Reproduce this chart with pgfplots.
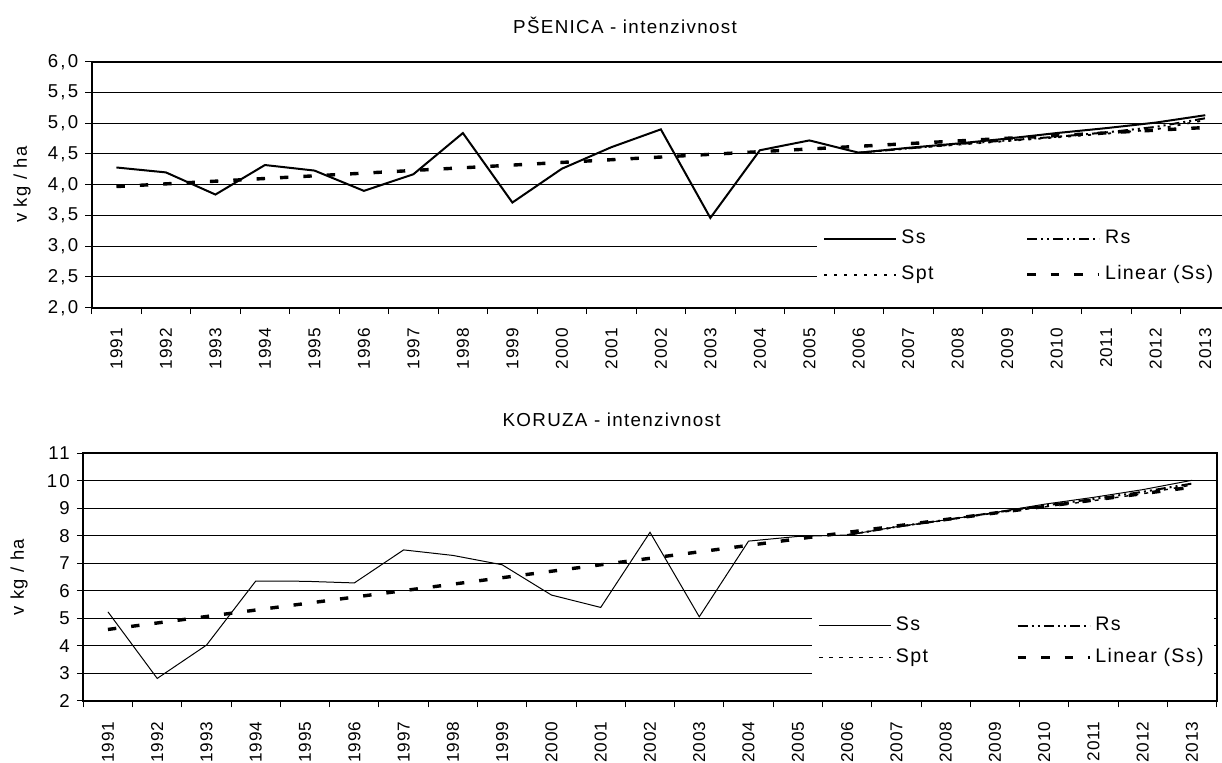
\documentclass[border=0pt]{standalone}
\usepackage{fontspec}
\setmainfont{Liberation Sans}[LetterSpace=7]
\usepackage{pgfplots}
\usepackage{pgfplotstable}
\pgfplotsset{compat=1.18}

% x: 0 = 1991 ... 22 = 2013
\pgfplotstableread{
x Ss
0 4.28
1 4.20
2 3.84
3 4.32
4 4.23
5 3.90
6 4.17
7 4.84
8 3.71
9 4.26
10 4.61
11 4.90
12 3.46
13 4.56
14 4.72
15 4.52
16 4.60
17 4.67
18 4.75
19 4.84
20 4.92
21 5.01
22 5.13
}\psSs
\pgfplotstableread{
x Rs Spt
15 4.52 4.52
16 4.59 4.59
17 4.66 4.65
18 4.72 4.71
19 4.78 4.77
20 4.85 4.83
21 4.94 4.90
22 5.08 5.05
}\psRS
\pgfplotstableread{
x Ss
0 5.24
1 2.82
2 4.03
3 6.36
4 6.35
5 6.29
6 7.49
7 7.29
8 6.95
9 5.85
10 5.40
11 8.13
12 5.06
13 7.81
14 7.98
15 8.03
16 8.33
17 8.58
18 8.85
19 9.15
20 9.40
21 9.68
22 10.02
}\koSs
\pgfplotstableread{
x Rs Spt
15 8.03 8.03
16 8.33 8.32
17 8.58 8.57
18 8.85 8.83
19 9.10 9.05
20 9.34 9.28
21 9.60 9.53
22 9.90 9.85
}\koRS

\pgfplotsset{
  mychart/.style={
    scale only axis,
    xmin=-0.5, xmax=22.5,
    xtick={-0.5,0.5,...,22.5},
    x tick label as interval,
    xticklabels={1991,1992,1993,1994,1995,1996,1997,1998,1999,2000,2001,2002,2003,2004,2005,2006,2007,2008,2009,2010,2011,2012,2013},
    xtick pos=bottom, ytick pos=left,
    tick align=outside,
    major tick length=3.2pt,
    tick style={black, line width=0.5pt},
    ymajorgrids,
    grid style={black, line width=0.5pt},
    axis line style={black, line width=1pt},
    xticklabel style={yshift=-3.6pt, rotate=90, anchor=east, font=\fontsize{8.6}{10}\selectfont\addfontfeature{LetterSpace=5}},
    yticklabel style={font=\fontsize{9.3}{11}\selectfont\addfontfeature{LetterSpace=12}},
    /pgf/number format/assume math mode=true,
    ylabel={v kg / ha},
    ylabel style={font=\fontsize{9.2}{11}\selectfont, anchor=center},
    legend columns=2,
    legend cell align=left,
    legend image code/.code={\draw[##1] (0pt,0pt) -- (36pt,0pt);},
    legend style={draw=none, fill=white, inner sep=3pt, anchor=north west,
      font=\fontsize{9.8}{11}\selectfont,
      nodes={text height=6.8pt, text depth=2pt, inner sep=2pt}},
  }
}

\begin{document}
\begin{tikzpicture}
\path[use as bounding box] (0,0) rectangle (611pt,-381pt);
\clip (0,0) rectangle (611pt,-381pt);

\node[font=\fontsize{9.4}{11}\selectfont] at (312.5pt,-12.5pt) {PŠENICA - intenzivnost};
\node[font=\fontsize{9.4}{11}\selectfont] at (305.8pt,-210pt) {KORUZA - intenzivnost};

\begin{axis}[mychart,
  at={(45.85pt,-30.85pt)}, anchor=north west,
  width=569.15pt, height=123pt,
  ymin=2, ymax=6, ytick={2,2.5,3,3.5,4,4.5,5,5.5,6},
  /pgf/number format/.cd, use comma, fixed, fixed zerofill, precision=1,
  /pgfplots/.cd,
  ylabel style={at={(axis description cs:-0.0612,0.5)}},
  legend style={at={(rel axis cs:0.6372,0.357)}, row sep=5.05pt,
    /tikz/every even column/.append style={column sep=44pt}},
]
\addplot[black, line width=1pt] table[x=x, y=Ss] {\psSs};
\addlegendentry{Ss}
\addplot[black, line width=1pt, dash pattern=on 5pt off 2pt on 1pt off 2pt on 1pt off 2pt] table[x=x, y=Rs] {\psRS};
\addlegendentry{Rs}
\addplot[black, line width=0.9pt, dash pattern=on 1.5pt off 3.5pt] table[x=x, y=Spt] {\psRS};
\addlegendentry{Spt}
\addplot[black, line width=1.7pt, dash pattern=on 4.2pt off 7.5pt] coordinates {(0,3.97) (22,4.93)};
\addlegendentry{Linear (Ss)}
\end{axis}

\begin{axis}[mychart,
  at={(41.65pt,-226.65pt)}, anchor=north west,
  width=566.7pt, height=123.85pt,
  ymin=2, ymax=11, ytick={2,3,...,11},
  ylabel style={at={(axis description cs:-0.0567,0.5)}},
  legend style={at={(rel axis cs:0.643,0.3815)}, row sep=3.05pt,
    /tikz/every even column/.append style={column sep=42pt}},
]
\addplot[black, line width=0.5pt] table[x=x, y=Ss] {\koSs};
\addlegendentry{Ss}
\addplot[black, line width=1pt, dash pattern=on 5pt off 2pt on 1pt off 2pt on 1pt off 2pt] table[x=x, y=Rs] {\koRS};
\addlegendentry{Rs}
\addplot[black, line width=0.7pt, dash pattern=on 2pt off 3pt] table[x=x, y=Spt] {\koRS};
\addlegendentry{Spt}
\addplot[black, line width=1.7pt, dash pattern=on 4.2pt off 7.5pt] coordinates {(0,4.60) (22,9.77)};
\addlegendentry{Linear (Ss)}
\end{axis}
\end{tikzpicture}
\end{document}
